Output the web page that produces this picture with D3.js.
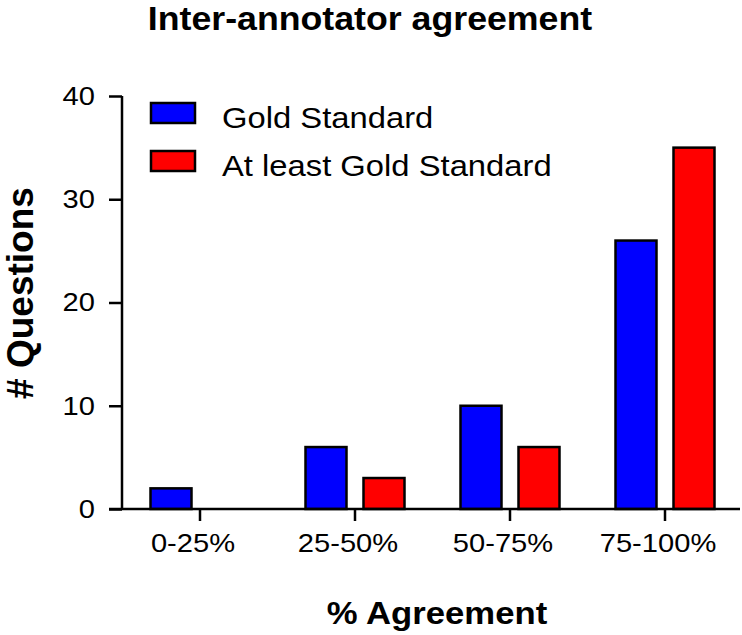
<!DOCTYPE html>
<html>
<head>
<meta charset="utf-8">
<script src="https://cdn.jsdelivr.net/npm/d3@7"></script>
<style>
  body { margin: 0; background: #fff; }
  text { font-family: "Liberation Sans", Arial, Helvetica, sans-serif; fill: #000; }
  .axis path, .axis line { stroke: #000; stroke-width: 2.5; }
</style>
</head>
<body>
<div id="chart"></div>
<script>
var width = 742,
    height = 635;

// data
var categories = ["0-25%", "25-50%", "50-75%", "75-100%"];
var series = ["Gold Standard", "At least Gold Standard"];
var goldValues = [2, 6, 10, 26];
var atLeastValues = [0, 3, 6, 35];
var yTicks = [0, 10, 20, 30, 40];
var colors = ["#0000ff", "#ff0000"];

var values = [goldValues, atLeastValues];
var stretchX = 1.12; // text in the picture is a bit wider than it is tall

var svg = d3.select("#chart")
    .append("svg")
    .attr("width", width)
    .attr("height", height);

var x = d3.scaleBand()
    .domain(categories)
    .range([122.5, 742.5])
    .padding(0);

var xs = d3.scaleBand()
    .domain(series)
    .range([-49.5, 49.5])
    .paddingInner(0.293)
    .paddingOuter(0);

var y = d3.scaleLinear()
    .domain([0, 40])
    .range([509, 96]);

// bars
categories.forEach(function (c, i) {
    series.forEach(function (s, j) {
        var v = values[j][i];
        if (v <= 0) return;
        svg.append("rect")
            .attr("x", x(c) + x.bandwidth() / 2 + xs(s))
            .attr("y", y(v))
            .attr("width", xs.bandwidth())
            .attr("height", y(0) - y(v))
            .style("fill", colors[j])
            .style("stroke", "#000")
            .style("stroke-width", 2.5);
    });
});

// y axis
var yAxis = svg.append("g")
    .attr("class", "axis")
    .attr("transform", "translate(122,0)")
    .call(d3.axisLeft(y).tickValues(yTicks).tickSize(13).tickSizeOuter(0).tickPadding(18));
yAxis.select(".domain").attr("d", "M0," + y(40) + "V" + y(0));
yAxis.selectAll("text")
    .style("font-size", "26px")
    .attr("x", -27 / stretchX)
    .attr("transform", "scale(" + stretchX + ",1)");

// x axis
var xAxis = svg.append("g")
    .attr("class", "axis")
    .attr("transform", "translate(0," + y(0) + ")")
    .call(d3.axisBottom(x).tickSize(12).tickSizeOuter(0).tickPadding(8));
xAxis.select(".domain").attr("d", "M109,0H740");
xAxis.selectAll("text")
    .style("font-size", "26px")
    .attr("dy", "0.9em")
    .attr("x", -7 / stretchX)
    .attr("transform", "scale(" + stretchX + ",1)");

// legend
var legend = svg.append("g");
series.forEach(function (s, j) {
    legend.append("rect")
        .attr("x", 151)
        .attr("y", 103 + j * 48)
        .attr("width", 44)
        .attr("height", 20)
        .style("fill", colors[j])
        .style("stroke", "#000")
        .style("stroke-width", 2.5);
    legend.append("g")
        .attr("transform", "translate(222," + (128 + j * 48) + ") scale(1.13,1)")
        .append("text")
        .text(s)
        .style("font-size", "29px");
});

// titles
svg.append("g")
    .attr("transform", "translate(370,30) scale(1.05,1)")
    .append("text")
    .text("Inter-annotator agreement")
    .style("text-anchor", "middle")
    .style("font-weight", "bold")
    .style("font-size", "34px");

svg.append("g")
    .attr("transform", "translate(437,624) scale(" + stretchX + ",1)")
    .append("text")
    .text("% Agreement")
    .style("text-anchor", "middle")
    .style("font-weight", "bold")
    .style("font-size", "31px");

svg.append("g")
    .attr("transform", "translate(33,293) rotate(-90)")
    .append("text")
    .text("# Questions")
    .style("text-anchor", "middle")
    .style("font-weight", "bold")
    .style("font-size", "37px");
</script>
</body>
</html>
